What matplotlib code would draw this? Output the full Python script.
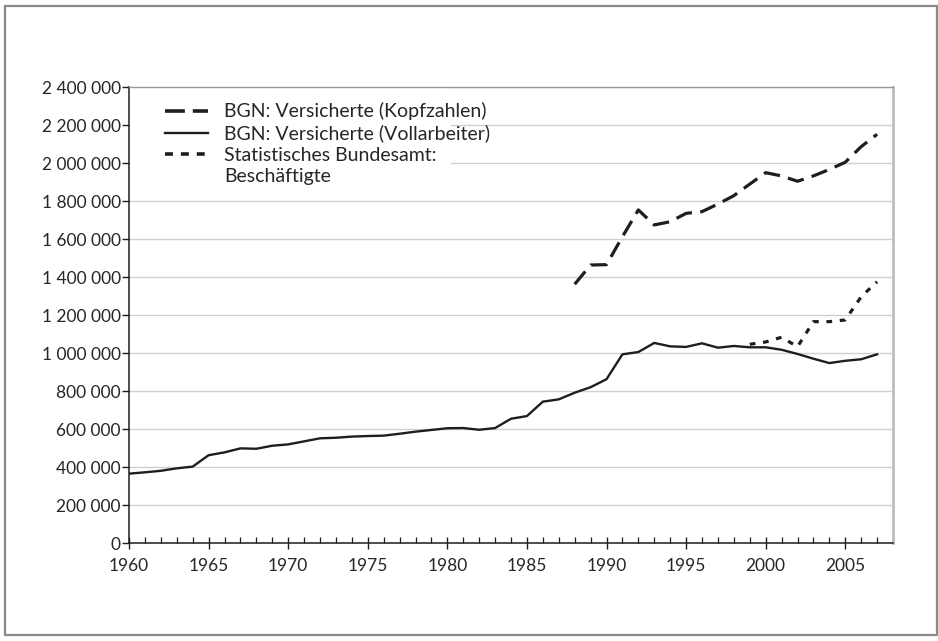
import matplotlib
matplotlib.use("Agg")
import matplotlib.pyplot as plt
from matplotlib.lines import Line2D
from matplotlib.patches import Rectangle
from matplotlib.ticker import MultipleLocator, FuncFormatter

plt.rcParams['font.family'] = ['Lato', 'DejaVu Sans']

# Data
years_voll = list(range(1960, 2008))
voll = [365000, 372000, 380000, 393000, 402000, 462000, 477000, 498000, 496000, 512000,
        519000, 535000, 551000, 554000, 560000, 563000, 565000, 575000, 586000, 595000,
        604000, 605000, 596000, 605000, 654000, 668000, 744000, 756000, 791000, 820000,
        862000, 993000, 1005000, 1053000, 1035000, 1032000, 1051000, 1028000, 1037000, 1030000,
        1030000, 1017000, 995000, 970000, 947000, 959000, 967000, 993000]

years_kopf = list(range(1988, 2008))
kopf = [1362000, 1463000, 1465000, 1612000, 1753000, 1674000, 1691000, 1735000, 1744000, 1784000,
        1828000, 1889000, 1949000, 1932000, 1904000, 1932000, 1966000, 2004000, 2086000, 2151000]

years_stat = list(range(1999, 2008))
stat = [1046000, 1058000, 1083000, 1033000, 1165000, 1165000, 1174000, 1296000, 1375000]

labels = ["BGN: Versicherte (Kopfzahlen)", "BGN: Versicherte (Vollarbeiter)",
          "Statistisches Bundesamt:", "Beschäftigte"]

ink = "#1e1e1e"
txt = "#262626"

fig = plt.figure(figsize=(9.38, 6.41), dpi=100)
fig.patch.set_facecolor("white")
W, H = 938, 641
ax = fig.add_axes([129 / W, (H - 543) / H, (893 - 129) / W, (543 - 87) / H])

# outer frame
fig.patches.append(Rectangle((4.5 / W, 6 / H), (937 - 4.5) / W, (635 - 6) / H,
                             transform=fig.transFigure, fill=False,
                             edgecolor="#8a8a8a", linewidth=1.6, zorder=0))

l_kopf, = ax.plot(years_kopf, kopf, color=ink, lw=2.3, dashes=(5.2, 2.6),
                  solid_capstyle="butt", dash_capstyle="butt", zorder=3)
l_voll, = ax.plot(years_voll, voll, color=ink, lw=1.7, zorder=3)
l_stat, = ax.plot(years_stat, stat, color=ink, lw=2.3, dashes=(1.8, 2.4),
                  dash_capstyle="butt", zorder=3)

ax.set_xlim(1960, 2008)
ax.set_ylim(0, 2400000)
ax.xaxis.set_major_locator(MultipleLocator(5))
ax.xaxis.set_minor_locator(MultipleLocator(1))
ax.yaxis.set_major_locator(MultipleLocator(200000))
ax.yaxis.set_major_formatter(FuncFormatter(lambda v, p: f"{int(round(v)):,}".replace(",", " ")))

ax.grid(axis="y", color="#d0d0d0", lw=1.0, zorder=0)
ax.set_axisbelow(True)

ax.tick_params(axis="x", which="major", direction="inout", length=9, width=1,
               color=ink, labelsize=12.5, labelcolor=txt, pad=6)
ax.tick_params(axis="x", which="minor", direction="in", length=4, width=0.9, color=ink)
ax.tick_params(axis="y", which="major", direction="out", length=5, width=1,
               color=ink, labelsize=12.5, labelcolor=txt, pad=1)

for s in ["left", "bottom"]:
    ax.spines[s].set_color(ink)
    ax.spines[s].set_linewidth(1.1)
ax.spines["top"].set_color("#9a9a9a")
ax.spines["top"].set_linewidth(1.0)
ax.spines["right"].set_color("#bdbdbd")
ax.spines["right"].set_linewidth(2.0)

# white background patch behind legend (covers gridlines)
ax.add_patch(Rectangle((0.0015, 0.77), 0.42, 0.228, transform=ax.transAxes,
                       facecolor="white", edgecolor="none", zorder=1.5))

h1 = Line2D([], [], color=ink, lw=2.6, dashes=(5.5, 2.2))
h2 = Line2D([], [], color=ink, lw=1.7)
h3 = Line2D([], [], color=ink, lw=2.6, dashes=(2.2, 2.2))
h4 = Line2D([], [], color="none", lw=0)
leg = ax.legend([h1, h2, h3, h4], labels, loc="upper left",
                bbox_to_anchor=(0.042, 0.975), frameon=False, fontsize=14,
                handlelength=2.2, handletextpad=0.85, labelspacing=0.22,
                borderpad=0.2, borderaxespad=0)
for t in leg.get_texts():
    t.set_color(txt)

fig.savefig("out.png", dpi=100, facecolor="white")
